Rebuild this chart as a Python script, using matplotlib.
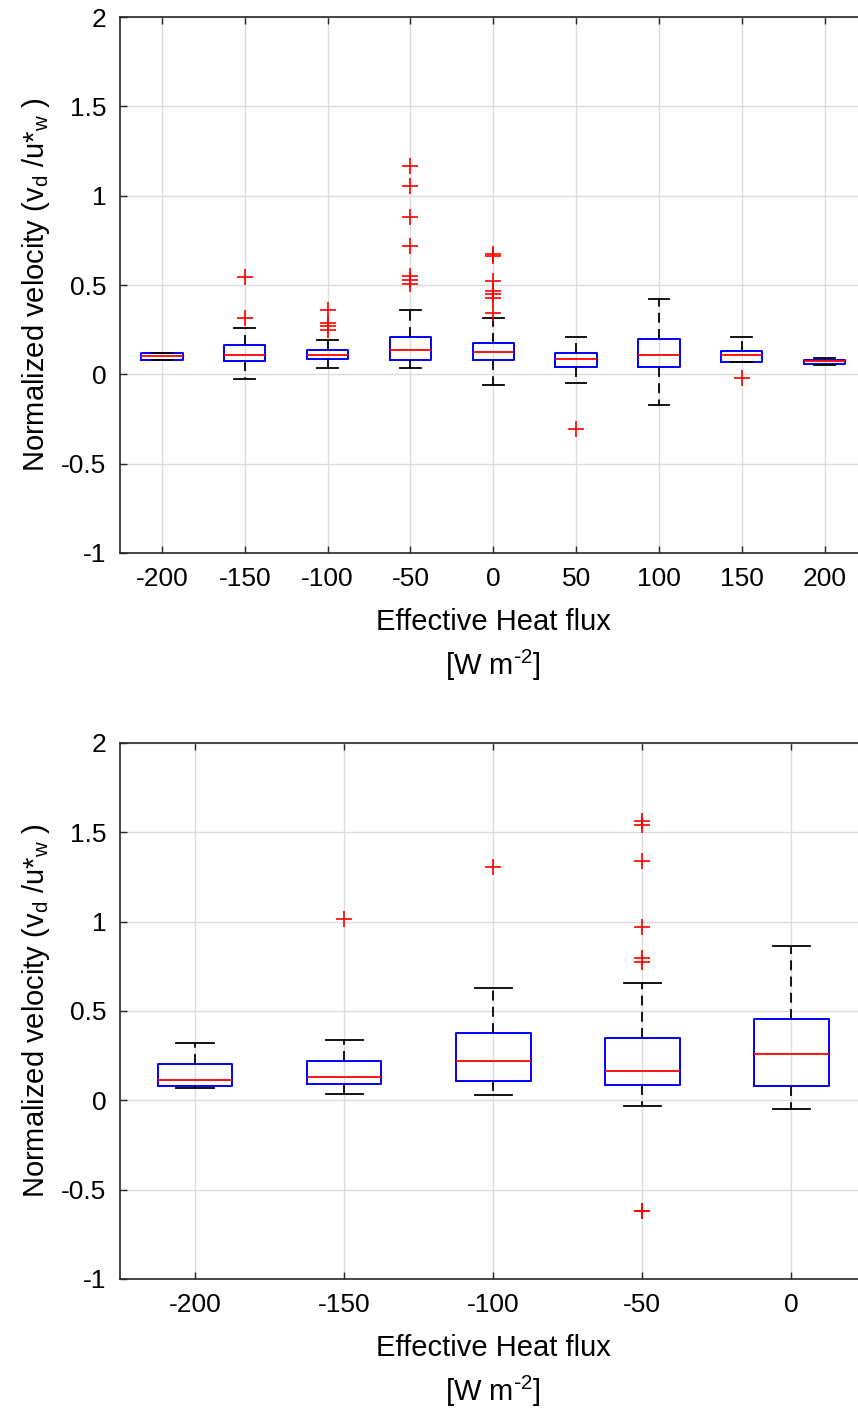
import matplotlib
matplotlib.use("Agg")
import matplotlib.pyplot as plt

plt.rcParams['font.family'] = ['Liberation Sans', 'DejaVu Sans']
plt.rcParams['mathtext.default'] = 'regular'

# ---------------- Top panel data ----------------
top_labels = ['-200', '-150', '-100', '-50', '0', '50', '100', '150', '200']
top_q1 = [0.080, 0.077, 0.088, 0.082, 0.080, 0.043, 0.042, 0.070, 0.058]
top_med = [0.101, 0.108, 0.110, 0.134, 0.123, 0.085, 0.109, 0.111, 0.074]
top_q3 = [0.121, 0.166, 0.136, 0.207, 0.176, 0.121, 0.196, 0.128, 0.083]
top_whislo = [0.080, -0.026, 0.034, 0.035, -0.061, -0.049, -0.174, 0.070, 0.055]
top_whishi = [0.121, 0.257, 0.190, 0.358, 0.314, 0.208, 0.423, 0.208, 0.089]
top_fliers = [
    [],
    [0.543, 0.315],
    [0.358, 0.285, 0.269, 0.248],
    [1.168, 1.056, 0.882, 0.718, 0.552, 0.530, 0.506],
    [0.676, 0.660, 0.520, 0.468, 0.452, 0.428, 0.345],
    [-0.306],
    [],
    [-0.019],
    [],
]

# ---------------- Bottom panel data ----------------
bot_labels = ['-200', '-150', '-100', '-50', '0']
bot_q1 = [0.080, 0.093, 0.108, 0.084, 0.078]
bot_med = [0.112, 0.133, 0.219, 0.164, 0.257]
bot_q3 = [0.206, 0.221, 0.377, 0.348, 0.457]
bot_whislo = [0.069, 0.036, 0.030, -0.030, -0.046]
bot_whishi = [0.321, 0.340, 0.626, 0.658, 0.864]
bot_fliers = [
    [],
    [1.015],
    [1.307],
    [1.561, 1.541, 1.338, 0.972, 0.799, 0.775, -0.617, -0.617],
    [],
]

W, H = 858, 1409
fig = plt.figure(figsize=(W / 100, H / 100), dpi=100)

def make_axes(top_px, bottom_px):
    left_px, right_px = 120.5, 866.0
    return fig.add_axes([left_px / W, 1 - bottom_px / H,
                         (right_px - left_px) / W, (bottom_px - top_px) / H])

def draw_panel(ax, labels, q1, med, q3, wlo, whi, fl):
    stats = []
    for i in range(len(labels)):
        stats.append(dict(q1=q1[i], med=med[i], q3=q3[i], whislo=wlo[i],
                          whishi=whi[i], fliers=fl[i], label=labels[i]))
    pos = list(range(1, len(labels) + 1))
    ax.bxp(stats, positions=pos, widths=0.5, capwidths=0.25,
           showfliers=True,
           boxprops=dict(color='#0000FF', linewidth=1.4),
           medianprops=dict(color='#FF0000', linewidth=1.3),
           whiskerprops=dict(color='black', linewidth=1.3, linestyle=(0, (5.5, 3.5))),
           capprops=dict(color='black', linewidth=1.3),
           flierprops=dict(marker='+', markeredgecolor='#FF0000', markersize=11,
                           markeredgewidth=1.2, linestyle='none'),
           zorder=3)
    ax.set_xlim(0.5, len(labels) + 0.5)
    ax.set_ylim(-1, 2)
    ax.set_yticks([-1, -0.5, 0, 0.5, 1, 1.5, 2])
    ax.set_yticklabels(['-1', '-0.5', '0', '0.5', '1', '1.5', '2'])
    ax.set_xticks(pos)
    ax.set_xticklabels(labels)
    ax.grid(True, color='#dcdcdc', linewidth=1.0, zorder=0)
    ax.set_axisbelow(True)
    for s in ax.spines.values():
        s.set_color('#262626')
        s.set_linewidth(1.2)
    ax.tick_params(direction='in', length=5, width=1.0, colors='#262626',
                   labelcolor='black', labelsize=19, top=True, right=True, pad=10)
    ax.set_ylabel(r'Normalized velocity (v$_d$ /u*$_w$ )', fontsize=21, labelpad=7)
    ax.set_xlabel('Effective Heat flux\n' + r'[W m$^{\text{-}2}$]', fontsize=21,
                  labelpad=12, linespacing=1.45)

ax1 = make_axes(17, 553)
draw_panel(ax1, top_labels, top_q1, top_med, top_q3, top_whislo, top_whishi, top_fliers)
ax2 = make_axes(743, 1279)
draw_panel(ax2, bot_labels, bot_q1, bot_med, bot_q3, bot_whislo, bot_whishi, bot_fliers)

fig.savefig('out.png', dpi=100, facecolor='white')
